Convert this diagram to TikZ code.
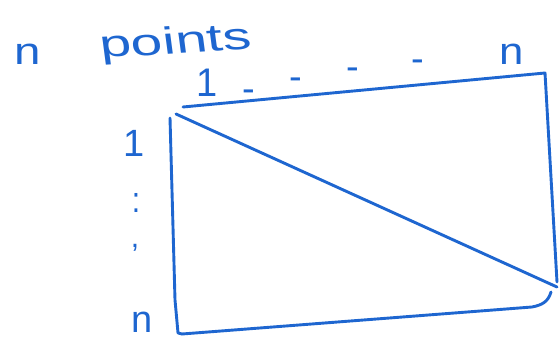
\documentclass[tikz,border=0pt]{standalone}
\usepackage{fontspec}
\setmainfont{Liberation Sans}
\definecolor{pen}{RGB}{30,102,208}
\begin{document}
\begin{tikzpicture}[x=1pt,y=-1pt,
  pen/.style={draw=pen,line width=2.9pt,line cap=round,line join=round},
  hand/.style={text=pen,inner sep=0pt,font=\fontsize{38}{38}\selectfont},
  dot/.style={hand,font=\fontsize{30}{30}\selectfont}]
\useasboundingbox[fill=white] (0,0) rectangle (559,339);
% corners
\coordinate (tl) at (183,107);
\coordinate (tr) at (545,73);
\coordinate (rb) at (557,282);
\coordinate (br) at (557,287);
\coordinate (bl) at (178,333);
\coordinate (lt) at (170,118);
\coordinate (ds) at (176,114);
% rectangle
\draw[pen] (tl) -- (tr) -- (rb);
\draw[pen] (551,292) .. controls (548,302) and (542,305) .. (532,307) -- (182,334);
\draw[pen] (lt) -- (175,300) -- (bl) -- (182,334);
% diagonal
\draw[pen] (ds) -- (br);
% labels
\node[hand,anchor=base,xscale=1.25] (nl) at (28,65) {n};
\node[hand,anchor=base west,xscale=1.5,rotate=5,text depth=0pt] (pts) at (101,58) {points};
\node[hand,anchor=base,yscale=1.05] (t1) at (207,97) {1};
\node[hand,anchor=base] (d1) at (249,102) {-};
\node[hand,anchor=base] (d2) at (296,90) {-};
\node[hand,anchor=base] (d3) at (353,80) {-};
\node[hand,anchor=base] (d4) at (418,72) {-};
\node[hand,anchor=base,xscale=1.15] (tn) at (512,65) {n};
\node[hand,anchor=base] (l1) at (134,157) {1};
\node[dot,anchor=base,yscale=1.2] (ld) at (136,212) {:};
\node[dot,anchor=base] (lc) at (135,247) {,};
\node[hand,anchor=base] (ln) at (142,332) {n};
\end{tikzpicture}
\end{document}
